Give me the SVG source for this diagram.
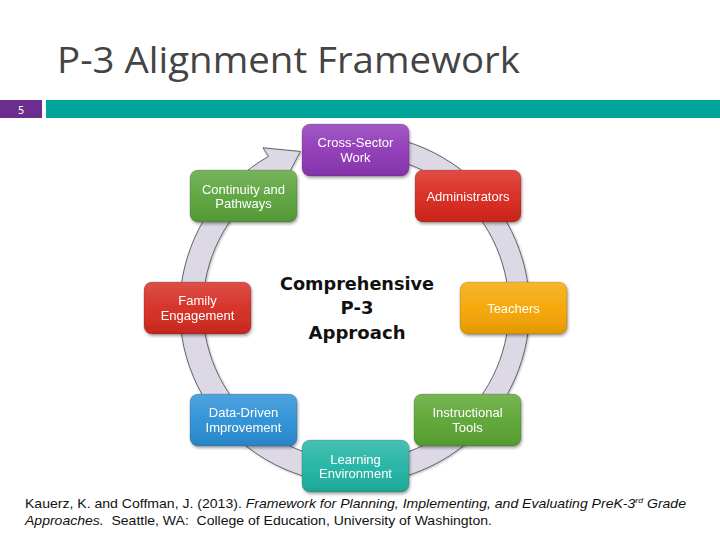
<svg xmlns="http://www.w3.org/2000/svg" width="720" height="540" viewBox="0 0 720 540">
<defs>
<linearGradient id="shine" x1="0" y1="0" x2="0" y2="1">
<stop offset="0" stop-color="#ffffff" stop-opacity="0.18"/>
<stop offset="0.5" stop-color="#ffffff" stop-opacity="0.05"/>
<stop offset="1" stop-color="#000000" stop-opacity="0.08"/>
</linearGradient>
<filter id="sh" x="-10%" y="-10%" width="125%" height="135%">
<feDropShadow dx="1" dy="2" stdDeviation="1.5" flood-color="#000" flood-opacity="0.35"/>
</filter>
<filter id="rsh" x="-10%" y="-10%" width="120%" height="120%">
<feDropShadow dx="1" dy="1" stdDeviation="1" flood-color="#000" flood-opacity="0.25"/>
</filter>
</defs>
<style>
.box{stroke:#000;stroke-opacity:0.15;stroke-width:1}
.shine{fill:url(#shine)}
.lbl{font-family:"Liberation Sans",Arial,sans-serif;font-size:13px;fill:#fff;text-anchor:middle}
.ctr{font-family:"DejaVu Sans","Liberation Sans",sans-serif;font-weight:bold;font-size:18px;fill:#111;text-anchor:middle}
.cite{font-family:"Liberation Sans",Arial,sans-serif;font-size:13px;fill:#111}
</style>
<rect width="720" height="540" fill="#fff"/>
<text x="57" y="73" font-family="'Open Sans','Noto Sans',sans-serif" font-size="36" fill="#444" textLength="463" lengthAdjust="spacingAndGlyphs">P-3 Alignment Framework</text>
<rect x="0" y="100" width="42" height="18" fill="#6b2d8e"/>
<text x="18" y="113.5" font-family="'DejaVu Sans',sans-serif" font-size="10" fill="#fff">5</text>
<rect x="46" y="100" width="674" height="18" fill="#00a59a"/>
<g id="connectors">
<path id="ring" filter="url(#rsh)" d="M386.22,136.64 A175,175 0 1 1 268.5,156.44 L263,147.8 L300.5,151.5 L284,182.4 L279.5,175.5 A153,153 0 1 0 382.57,157.33 Z" fill="#dcd8e6" stroke="#555" stroke-width="0.9"/>
</g>
<g id="center">
<text class="ctr" x="357" y="290" textLength="154" lengthAdjust="spacingAndGlyphs">Comprehensive</text>
<text class="ctr" x="357" y="314">P-3</text>
<text class="ctr" x="357" y="339" textLength="97" lengthAdjust="spacingAndGlyphs">Approach</text>
</g>
<g id="cross-sector" filter="url(#sh)">
<rect class="box" x="302" y="124" width="107" height="52" rx="8" fill="#8e36b6"/>
<rect class="shine" x="302" y="124" width="107" height="52" rx="8"/>
<text class="lbl" x="355.5" y="147">Cross-Sector</text>
<text class="lbl" x="355.5" y="161.5">Work</text>
</g>
<g id="administrators" filter="url(#sh)">
<rect class="box" x="415" y="170" width="106" height="52" rx="8" fill="#d8261c"/>
<rect class="shine" x="415" y="170" width="106" height="52" rx="8"/>
<text class="lbl" x="468" y="200.5">Administrators</text>
</g>
<g id="teachers" filter="url(#sh)">
<rect class="box" x="460" y="282" width="107" height="52" rx="8" fill="#f5a500"/>
<rect class="shine" x="460" y="282" width="107" height="52" rx="8"/>
<text class="lbl" x="513.5" y="312.5">Teachers</text>
</g>
<g id="instructional-tools" filter="url(#sh)">
<rect class="box" x="414" y="394" width="107" height="52" rx="8" fill="#5aa531"/>
<rect class="shine" x="414" y="394" width="107" height="52" rx="8"/>
<text class="lbl" x="467.5" y="417">Instructional</text>
<text class="lbl" x="467.5" y="431.5">Tools</text>
</g>
<g id="learning-environment" filter="url(#sh)">
<rect class="box" x="302" y="440" width="107" height="52" rx="8" fill="#1fb3a2"/>
<rect class="shine" x="302" y="440" width="107" height="52" rx="8"/>
<text class="lbl" x="355.5" y="463.5">Learning</text>
<text class="lbl" x="355.5" y="478">Environment</text>
</g>
<g id="data-driven" filter="url(#sh)">
<rect class="box" x="190" y="394" width="107" height="52" rx="8" fill="#2a8fd6"/>
<rect class="shine" x="190" y="394" width="107" height="52" rx="8"/>
<text class="lbl" x="243.5" y="417">Data-Driven</text>
<text class="lbl" x="243.5" y="431.5">Improvement</text>
</g>
<g id="family-engagement" filter="url(#sh)">
<rect class="box" x="144" y="282" width="107" height="52" rx="8" fill="#d42a20"/>
<rect class="shine" x="144" y="282" width="107" height="52" rx="8"/>
<text class="lbl" x="197.5" y="305" font-size="12">Family</text>
<text class="lbl" x="197.5" y="320" font-size="12">Engagement</text>
</g>
<g id="continuity" filter="url(#sh)">
<rect class="box" x="190" y="170" width="107" height="52" rx="8" fill="#5aa33a"/>
<rect class="shine" x="190" y="170" width="107" height="52" rx="8"/>
<text class="lbl" x="243.5" y="193.5">Continuity and</text>
<text class="lbl" x="243.5" y="208">Pathways</text>
</g>
<g id="citation">
<text class="cite" x="25" y="508" textLength="661" lengthAdjust="spacingAndGlyphs">Kauerz, K. and Coffman, J. (2013). <tspan font-style="italic">Framework for Planning, Implementing, and Evaluating PreK-3<tspan font-size="8" dy="-5">rd</tspan><tspan dy="5"> Grade</tspan></tspan></text>
<text class="cite" x="25" y="525" xml:space="preserve" textLength="467" lengthAdjust="spacingAndGlyphs"><tspan font-style="italic">Approaches.</tspan>  Seattle, WA:  College of Education, University of Washington.</text>
</g>
</svg>
